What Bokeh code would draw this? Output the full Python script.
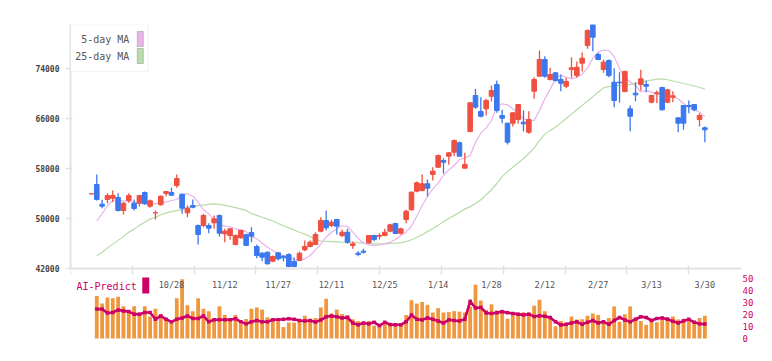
from bokeh.plotting import figure
from bokeh.models import (ColumnDataSource, Range1d, LinearAxis, FixedTicker,
                          BoxAnnotation, Label)
from bokeh.embed import file_html
from bokeh.resources import INLINE

# ---------------- data ----------------
opens = [53950, 55440, 52290, 53040, 53250, 53360, 51280, 52880, 52450, 52450,
         54160, 51970, 50910, 52190, 54000, 54160, 55280, 53890, 50910, 52080,
         48880, 48880, 48880, 49310, 50480, 47550, 47280, 45840, 46910, 47400,
         47760, 45520, 44450, 44610, 43170, 44510, 43970, 44240, 43120, 43280,
         44990, 45520, 45840, 47970, 49680, 48880, 49840, 47280, 47810, 45680,
         44450, 44770, 46110, 47280, 47170, 47280, 47970, 49200, 47650, 49840,
         51390, 54370, 54480, 55550, 57040, 58210, 59280, 59970, 60610, 62110,
         58050, 63920, 69680, 67120, 67550, 69570, 71440, 66480, 65250, 65250,
         65840, 65410, 63810, 70370, 72770, 75440, 72240, 73310, 72240, 71170,
         73840, 72880, 74850, 77680, 81000, 76240, 73840, 75280, 71810, 71810,
         70320, 67550, 70050, 71440, 71440, 68610, 69950, 70960, 68610, 69410,
         66110, 68080, 68080, 68240, 65840, 64510]
closes = [53950, 53040, 51970, 53680, 53680, 51280, 52450, 53680, 51600, 53680,
          52350, 52830, 50910, 53570, 54320, 53730, 56400, 51650, 51650, 51810,
          47440, 50480, 48450, 49950, 47650, 47970, 48350, 47280, 48080, 45700,
          47170, 44080, 43810, 42750, 43920, 43550, 43710, 42320, 42320, 44450,
          45520, 46210, 47440, 49680, 48510, 49410, 48770, 47810, 46210, 45950,
          44240, 44610, 47280, 46640, 47280, 47810, 48990, 47600, 48350, 51170,
          54210, 55710, 55550, 54850, 57570, 60080, 59010, 60510, 62480, 59970,
          58640, 68510, 67810, 66370, 68880, 70480, 67280, 66050, 62210, 66910,
          68240, 65150, 65840, 72240, 75440, 72770, 73040, 72080, 71650, 71920,
          74110, 74210, 75650, 80080, 79010, 75440, 75010, 72880, 68880, 71710,
          73520, 66370, 69790, 72350, 71170, 69680, 70110, 67390, 70590, 69630,
          65250, 65250, 67920, 67390, 66480, 64190]
highs = [53950, 57040, 52990, 54050, 54480, 54050, 52610, 54050, 53040, 53790,
         54320, 53040, 51280, 53680, 54370, 54910, 57040, 54000, 52080, 53040,
         49040, 50750, 49250, 50480, 50640, 48350, 48450, 47440, 48190, 47550,
         48610, 45840, 44610, 44720, 44080, 44610, 44080, 44450, 43810, 44720,
         46480, 46480, 47810, 50210, 51280, 49790, 49890, 48240, 48350, 46320,
         44770, 45150, 47330, 47390, 47650, 48350, 49150, 49310, 48510, 51390,
         54320, 55920, 57040, 56240, 58210, 60240, 59650, 60610, 62640, 62320,
         60510, 68560, 70750, 69410, 69150, 71280, 72080, 67390, 65310, 67010,
         68290, 67280, 67170, 72610, 76880, 75970, 74110, 73410, 73040, 72510,
         75810, 75120, 76560, 80240, 81000, 76510, 75440, 75440, 74050, 73410,
         73680, 68080, 71810, 73790, 72080, 69790, 70480, 71070, 70750, 70370,
         66210, 68130, 68880, 68290, 66850, 64720]
lows = [53950, 52880, 51650, 52450, 52610, 51120, 50640, 52510, 51280, 51920,
        52190, 51710, 49840, 52080, 53570, 53680, 54910, 50750, 50210, 51650,
        45840, 48610, 47650, 48350, 47120, 46210, 46590, 45730, 46750, 45600,
        46210, 43650, 43170, 42640, 43010, 43280, 43120, 42210, 42320, 43170,
        44770, 45410, 45840, 47810, 48080, 48610, 47440, 47010, 45950, 45150,
        43970, 44350, 45950, 46370, 46640, 47170, 47810, 47550, 47440, 49250,
        51280, 54210, 54370, 53520, 56080, 58110, 57150, 58590, 59970, 59920,
        58050, 63810, 67550, 66210, 66480, 68770, 66910, 65250, 61840, 64720,
        65150, 63920, 63550, 69150, 72720, 72510, 72080, 71920, 70370, 70850,
        72510, 72510, 73520, 77150, 76770, 75440, 73310, 72610, 67810, 68510,
        70210, 63970, 68770, 70480, 70210, 68450, 68450, 67280, 68450, 68610,
        63810, 64190, 66850, 67170, 64720, 62210]

ma5 = [49600, 50750, 52080, 52880, 53000, 52780, 52780, 52610, 52500, 52720,
       52610, 52350, 52500, 52610, 52880, 53040, 53790, 53950, 53570, 52610,
       51390, 50750, 49790, 48990, 48770, 48670, 48350, 48190, 47900, 47120,
       46750, 46050, 45410, 44880, 44350, 44080, 43810, 43440, 43280, 43550,
       44080, 44990, 45950, 47010, 47810, 48350, 48830, 48720, 47810, 46850,
       46050, 45790, 45700, 45740, 45950, 46210, 46640, 47280, 47810, 48800,
       50370, 52080, 53520, 54750, 55650, 56880, 57790, 58480, 59390, 59710,
       60080, 62210, 63650, 64510, 65680, 67920, 68350, 68190, 67550, 66750,
       65950, 65680, 65700, 67300, 69150, 70700, 72300, 72950, 72600, 72350,
       72600, 73050, 74100, 75600, 76600, 76950, 76880, 75900, 74000, 72600,
       71850, 71300, 70250, 70450, 70220, 69950, 69950, 69700, 69500, 69150,
       68400, 67800, 67400, 67000, 66300]
ma25 = [44000, 44600, 45300, 45900, 46500, 47100, 47800, 48300, 48900, 49400,
        49900, 50200, 50600, 50900, 51100, 51250, 51400, 51700, 51900, 52050,
        52150, 52250, 52350, 52250, 52100, 51950, 51750, 51550, 51300, 50800,
        50500, 50200, 49900, 49600, 49200, 48850, 48500, 48150, 47800, 47500,
        47100, 46550, 46400, 46350, 46300, 46250, 46200, 46200, 46200, 46150,
        46050, 46000, 45950, 45950, 45950, 46000, 46050, 46150, 46300, 46600,
        47000, 47400, 47900, 48400, 48900, 49500, 50000, 50500, 51000, 51500,
        51900, 52400, 53000, 53800, 54600, 55600, 56700, 57500, 58200, 58900,
        59600, 60400, 61300, 62500, 63500, 64100, 64600, 65300, 66000, 66700,
        67400, 68100, 68800, 69500, 70200, 70900, 71100, 71200, 71300, 71350,
        71450, 71600, 71800, 72000, 72150, 72300, 72350, 72200, 72000, 71800,
        71600, 71400, 71200, 71000, 70700]

ai_bars = [35.4, 29.1, 34.2, 33.5, 34.8, 26.8, 23.0, 26.8, 19.8, 26.8,
           18.4, 24.7, 20.5, 15.4, 14.6, 33.5, 49.4, 27.8, 22.8, 33.5,
           24.7, 22.8, 14.6, 26.8, 19.6, 15.8, 19.6, 12.0, 16.2, 24.7,
           25.9, 24.1, 17.7, 16.2, 13.9, 9.5, 13.3, 13.3, 15.8, 19.0,
           15.8, 17.1, 25.9, 33.1, 20.9, 24.1, 20.3, 19.6, 16.0, 14.6,
           13.3, 14.6, 10.8, 10.1, 12.5, 12.8, 12.7, 12.3, 19.6, 31.9,
           29.1, 30.4, 28.1, 21.7, 25.3, 21.7, 22.0, 22.8, 22.4, 21.7,
           26.6, 44.9, 31.6, 23.8, 28.5, 23.4, 22.8, 16.5, 20.3, 19.6,
           21.9, 21.5, 27.2, 32.3, 22.8, 18.4, 10.3, 14.6, 10.8, 18.4,
           15.8, 16.0, 19.0, 20.9, 19.6, 13.9, 17.1, 26.6, 13.9, 20.3,
           26.6, 16.0, 14.6, 11.4, 16.5, 13.5, 15.6, 17.7, 18.4, 15.8,
           16.5, 15.8, 12.7, 17.1, 19.0]
ai_line = [24.5, 24.5, 21.3, 21.7, 23.8, 23.0, 22.4, 20.3, 20.3, 21.7,
           21.7, 16.0, 18.8, 16.0, 13.9, 16.0, 17.1, 18.8, 16.7, 16.7,
           18.8, 13.9, 15.6, 15.6, 15.6, 15.6, 16.5, 13.9, 12.2, 13.9,
           15.0, 13.9, 13.9, 15.6, 15.6, 16.0, 16.5, 16.0, 15.0, 14.6,
           15.0, 13.7, 15.4, 18.1, 18.8, 18.1, 17.1, 17.5, 12.9, 11.4,
           12.9, 12.2, 13.5, 10.8, 13.5, 11.6, 11.4, 11.4, 14.0, 19.6,
           16.0, 15.5, 17.1, 16.0, 14.6, 12.9, 15.6, 15.0, 14.6, 16.0,
           31.0, 25.4, 25.9, 21.3, 20.9, 21.5, 22.4, 21.5, 20.9, 20.3,
           19.6, 20.3, 18.4, 19.0, 18.5, 17.5, 14.0, 11.2, 11.8, 12.9,
           13.9, 11.8, 13.5, 15.0, 12.9, 13.9, 11.8, 15.0, 17.5, 15.5,
           13.9, 16.0, 18.1, 17.5, 15.0, 16.7, 17.1, 16.0, 14.3, 12.9,
           14.5, 16.0, 13.5, 12.3, 12.0]

date_labels = ['10/28', '11/12', '11/27', '12/11', '12/25', '1/14',
               '1/28', '2/12', '2/27', '3/13', '3/30']
date_label_idx = [15, 25, 35, 45, 55, 65, 75, 85, 95, 105, 115]
price_ticks = [42000, 50000, 58000, 66000, 74000]
ai_ticks = [0, 10, 20, 30, 40, 50]

# ---------------- geometry (picture pixel coordinates) ----------------
W, H = 756, 345
FL, FR, FT, FB = 70, 743, 24, 345           # frame edges
SLOT0, SLOT = 91.0, 5.35                    # pixel x of candle 0, pixels per candle
X0 = (FL - SLOT0) / SLOT
X1 = (FR - SLOT0) / SLOT
P_PER_PX = 160.0
Y0 = 42000 - (FB - 268) * P_PER_PX
Y1 = 42000 + (268 - FT) * P_PER_PX
AI_ZERO_PX, AI_50_PX = 338, 278
AI_K = 50.0 / (AI_ZERO_PX - AI_50_PX)
A0 = -(FB - AI_ZERO_PX) * AI_K
A1 = (AI_ZERO_PX - FT) * AI_K


def px2x(px):
    return X0 + (px - FL) / (FR - FL) * (X1 - X0)


def px2y(py):
    return Y1 - (py - FT) / (FB - FT) * (Y1 - Y0)


RED = "#ef5040"
BLUE = "#3b78ee"
CRIMSON = "#cc0066"
MONO = "DejaVu Sans Mono"

n = len(opens)
xs = list(range(n))
colors = [RED if c >= o else BLUE for o, c in zip(opens, closes)]
candles = ColumnDataSource(dict(
    x=xs, high=highs, low=lows,
    top=[max(o, c) for o, c in zip(opens, closes)],
    bottom=[min(o, c) for o, c in zip(opens, closes)],
    color=colors))
mx = list(range(1, n))

p = figure(width=W, height=H, output_backend="svg", toolbar_location=None,
           x_range=Range1d(X0, X1), y_range=Range1d(Y0, Y1),
           x_axis_location=None, y_axis_location="left",
           min_border_left=FL, min_border_right=W - FR, min_border_top=FT,
           min_border_bottom=H - FB)
p.outline_line_color = None
p.grid.grid_line_color = None
p.background_fill_color = "white"
p.border_fill_color = "white"
p.extra_y_ranges = {"ai": Range1d(A0, A1)}

# ---- AI panel ----
p.vbar(x=mx, top=ai_bars, bottom=0, width=0.72, y_range_name="ai",
       fill_color="#f09840", line_color=None)
p.line(mx, ai_line, y_range_name="ai", line_color=CRIMSON, line_width=2.6)
p.scatter(mx, ai_line, y_range_name="ai", marker="square", size=3.5,
          fill_color=CRIMSON, line_color=None)

# ---- moving averages ----
p.line(mx, ma25, line_color="#b6dca8", line_width=1.2)
p.line(mx, ma5, line_color="#e9b2ea", line_width=1.2)

# ---- candles ----
p.segment(x0="x", y0="high", x1="x", y1="low", source=candles,
          line_color="color", line_width=1.3)
p.vbar(x="x", top="top", bottom="bottom", width=0.86, source=candles,
       fill_color="color", line_color="color", line_width=1)

# ---- left price axis ----
yax = p.yaxis[0]
yax.ticker = FixedTicker(ticks=price_ticks)
yax.bounds = (42000, Y1)
yax.axis_line_color = "#e2e2e2"
yax.axis_line_width = 2
yax.major_tick_line_color = "#e2e2e2"
yax.major_tick_line_width = 1.5
yax.major_tick_in = 2
yax.major_tick_out = 5
yax.minor_tick_line_color = None
yax.major_label_standoff = 6
yax.major_label_text_font = MONO
yax.major_label_text_font_size = "8px"
yax.major_label_text_font_style = "bold"
yax.major_label_text_color = "#444444"

# ---- date axis at the 42000 line: labels = major ticks, tick marks = minor ticks ----
tick_pos = [(FL + 62 * k - SLOT0) / SLOT for k in range(11)]
xax = LinearAxis(fixed_location=42000,
                 ticker=FixedTicker(ticks=date_label_idx, minor_ticks=tick_pos),
                 major_label_overrides={i: s for i, s in zip(date_label_idx, date_labels)},
                 axis_line_color="#e2e2e2", axis_line_width=2,
                 major_tick_line_color=None, major_tick_in=0, major_tick_out=0,
                 minor_tick_line_color="#e2e2e2", minor_tick_line_width=1.5,
                 minor_tick_in=3, minor_tick_out=6,
                 major_label_standoff=5,
                 major_label_text_font=MONO, major_label_text_font_size="8.5px",
                 major_label_text_color="#555555")
p.add_layout(xax, "below")

# ---- right AI axis ----
ai_axis = LinearAxis(y_range_name="ai", ticker=FixedTicker(ticks=ai_ticks),
                     bounds=(0, 50), axis_line_color=None,
                     major_tick_line_color=None, minor_tick_line_color=None,
                     major_tick_in=0, major_tick_out=0, major_label_standoff=1,
                     major_label_text_font=MONO, major_label_text_font_size="9px",
                     major_label_text_color=CRIMSON)
p.add_layout(ai_axis, "right")

# ---- legend (drawn by hand: text then swatch) ----
p.add_layout(BoxAnnotation(left=px2x(70), right=px2x(148), top=px2y(24), bottom=px2y(71),
                           fill_color="white", fill_alpha=1, line_color="#dddddd",
                           line_width=1.5))
p.add_layout(Label(x=px2x(129), y=px2y(39), text="5-day MA", text_align="right",
                   text_baseline="middle", text_font=MONO, text_font_size="10px",
                   text_color="#555555"))
p.add_layout(Label(x=px2x(129), y=px2y(56), text="25-day MA", text_align="right",
                   text_baseline="middle", text_font=MONO, text_font_size="10px",
                   text_color="#555555"))
p.add_layout(BoxAnnotation(left=px2x(137), right=px2x(143), top=px2y(31), bottom=px2y(46),
                           fill_color="#eab6ea", fill_alpha=1, line_color="#555555",
                           line_width=1))
p.add_layout(BoxAnnotation(left=px2x(137), right=px2x(143), top=px2y(48), bottom=px2y(63),
                           fill_color="#badcae", fill_alpha=1, line_color="#555555",
                           line_width=1))

# ---- AI-Predict caption ----
p.add_layout(Label(x=px2x(76), y=px2y(286), text="AI-Predict", text_align="left",
                   text_baseline="middle", text_font=MONO, text_font_size="10px",
                   text_color=CRIMSON))
p.add_layout(BoxAnnotation(left=px2x(142), right=px2x(149), top=px2y(277), bottom=px2y(293),
                           fill_color=CRIMSON, fill_alpha=1, line_color=None))

# ---- watermark / code ----
p.add_layout(Label(x=px2x(14), y=px2y(12), text="(C)https://chartnavi.com/",
                   text_align="left", text_baseline="middle", text_font=MONO,
                   text_font_size="10px", text_color="#cccccc"))
p.add_layout(Label(x=px2x(754), y=px2y(12), text="6146", text_align="right",
                   text_baseline="middle", text_font=MONO, text_font_size="10px",
                   text_color="#cccccc"))

open("out.html", "w").write(file_html(p, INLINE))
